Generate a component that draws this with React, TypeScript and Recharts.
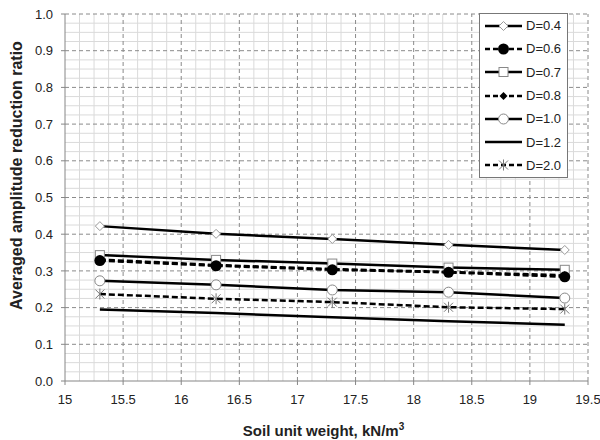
import React from "react";
import { LineChart, Line, XAxis, YAxis, ReferenceLine, Legend, Label } from "recharts";

// soil unit weight (kN/m3) at which each ratio was measured
const unitWeights = [15.3, 16.3, 17.3, 18.3, 19.3];

// averaged amplitude reduction ratio, one list per D
const d04 = [0.422, 0.401, 0.387, 0.371, 0.357];
const d06 = [0.328, 0.314, 0.303, 0.296, 0.284];
const d07 = [0.343, 0.33, 0.32, 0.309, 0.303];
const d08 = [0.331, 0.316, 0.305, 0.297, 0.288];
const d10 = [0.273, 0.262, 0.248, 0.242, 0.226];
const d12 = [0.195, 0.185, 0.174, 0.163, 0.153];
const d20 = [0.237, 0.224, 0.215, 0.201, 0.196];

const xTicks = [15, 15.5, 16, 16.5, 17, 17.5, 18, 18.5, 19, 19.5];
const yTicks = [0, 0.1, 0.2, 0.3, 0.4, 0.5, 0.6, 0.7, 0.8, 0.9, 1];
// minor grid: 4 divisions between major lines (majors skipped)
const xMinor = Array.from({ length: 36 }, (_, i) => 15 + (i + 1) * 0.125).filter((_, i) => (i + 1) % 4 !== 0);
const yMinor = Array.from({ length: 40 }, (_, i) => (i + 1) * 0.025).filter((_, i) => (i + 1) % 4 !== 0);

type MarkerKind = "diamond" | "dot" | "square" | "smallDiamond" | "circle" | "none" | "star";

const seriesList: { key: string; name: string; values: number[]; dashed: boolean; marker: MarkerKind }[] = [
  { key: "d04", name: "D=0.4", values: d04, dashed: false, marker: "diamond" },
  { key: "d07", name: "D=0.7", values: d07, dashed: false, marker: "square" },
  { key: "d06", name: "D=0.6", values: d06, dashed: true, marker: "dot" },
  { key: "d08", name: "D=0.8", values: d08, dashed: true, marker: "smallDiamond" },
  { key: "d10", name: "D=1.0", values: d10, dashed: false, marker: "circle" },
  { key: "d12", name: "D=1.2", values: d12, dashed: false, marker: "none" },
  { key: "d20", name: "D=2.0", values: d20, dashed: true, marker: "star" },
];
const legendOrder = ["d04", "d06", "d07", "d08", "d10", "d12", "d20"];

const data = unitWeights.map((x, i) => {
  const row: Record<string, number> = { x };
  seriesList.forEach((s) => (row[s.key] = s.values[i]));
  return row;
});

function Marker({ kind, cx, cy }: { kind: MarkerKind; cx: number; cy: number }) {
  switch (kind) {
    case "diamond":
      return (
        <polygon
          points={`${cx},${cy - 4.5} ${cx + 4.5},${cy} ${cx},${cy + 4.5} ${cx - 4.5},${cy}`}
          fill="#fff"
          stroke="#999"
          strokeWidth={1}
        />
      );
    case "dot":
      return <circle cx={cx} cy={cy} r={5.5} fill="#000" />;
    case "square":
      return <rect x={cx - 4.5} y={cy - 4.5} width={9} height={9} fill="#fff" stroke="#888" strokeWidth={1} />;
    case "smallDiamond":
      return <polygon points={`${cx},${cy - 4} ${cx + 4},${cy} ${cx},${cy + 4} ${cx - 4},${cy}`} fill="#000" />;
    case "circle":
      return <circle cx={cx} cy={cy} r={5} fill="#fff" stroke="#888" strokeWidth={1} />;
    case "star":
      return (
        <g stroke="#777" strokeWidth={1}>
          <line x1={cx - 4.5} y1={cy - 4.5} x2={cx + 4.5} y2={cy + 4.5} />
          <line x1={cx - 4.5} y1={cy + 4.5} x2={cx + 4.5} y2={cy - 4.5} />
          <line x1={cx} y1={cy - 5.5} x2={cx} y2={cy + 5.5} />
        </g>
      );
    default:
      return null;
  }
}

const LegendBox = () => (
  <div
    style={{
      border: "1px solid #777",
      background: "#fff",
      width: 87,
      height: 163,
      fontSize: 13,
      color: "#222",
    }}
  >
    {legendOrder.map((k) => {
      const s = seriesList.find((it) => it.key === k)!;
      return (
        <div key={k} style={{ height: 23.3, display: "flex", alignItems: "center" }}>
          <svg width={45} height={16} style={{ display: "block" }}>
            <line
              x1={5}
              x2={42}
              y1={8}
              y2={8}
              stroke="#000"
              strokeWidth={2.5}
              strokeDasharray={s.dashed ? "5 3" : undefined}
            />
            <Marker kind={s.marker} cx={23.5} cy={8} />
          </svg>
          <span style={{ marginLeft: 1 }}>{s.name}</span>
        </div>
      );
    })}
  </div>
);

export default function App() {
  return (
    <div style={{ position: "absolute", left: 0, top: 0, fontFamily: "'Liberation Sans', Arial, sans-serif" }}>
      <LineChart width={600} height={440} data={data} margin={{ top: 14, right: 12, bottom: 0, left: 0 }}>
        {xMinor.map((v) => (
          <ReferenceLine key={`xm${v}`} x={v} stroke="#dadada" strokeWidth={1} zIndex={-100} />
        ))}
        {yMinor.map((v) => (
          <ReferenceLine key={`ym${v}`} y={v} stroke="#dadada" strokeWidth={1} zIndex={-100} />
        ))}
        {xTicks.slice(1).map((v) => (
          <ReferenceLine key={`xM${v}`} x={v} stroke="#8a8a8a" strokeDasharray="4 3" zIndex={-90} />
        ))}
        {yTicks.slice(1).map((v) => (
          <ReferenceLine key={`yM${v}`} y={v} stroke="#8a8a8a" strokeDasharray="4 3" zIndex={-90} />
        ))}
        <XAxis
          dataKey="x"
          type="number"
          domain={[15, 19.5]}
          ticks={xTicks}
          tickFormatter={(v: number) => String(v)}
          height={59}
          tickSize={4}
          tickMargin={10}
          axisLine={{ stroke: "#868686" }}
          tickLine={{ stroke: "#868686" }}
          tick={{ fill: "#222", fontSize: 13 }}
          allowDataOverflow
        >
          <Label
            content={(props: any) => {
              const vb = props.viewBox;
              return (
                <text x={vb.x + vb.width / 2 - 3} y={436} textAnchor="middle" fontSize={15} fontWeight="bold" fill="#222">
                  Soil unit weight, kN/m
                  <tspan dy={-6} fontSize={10}>
                    3
                  </tspan>
                </text>
              );
            }}
          />
        </XAxis>
        <YAxis
          type="number"
          domain={[0, 1]}
          ticks={yTicks}
          tickFormatter={(v: number) => v.toFixed(1)}
          width={65}
          tickSize={4}
          tickMargin={8}
          axisLine={{ stroke: "#868686" }}
          tickLine={{ stroke: "#868686" }}
          tick={{ fill: "#222", fontSize: 13 }}
          allowDataOverflow
        >
          <Label
            content={(props: any) => {
              const vb = props.viewBox;
              const cy = vb.y + vb.height / 2 - 22;
              return (
                <text
                  x={22}
                  y={cy}
                  transform={`rotate(-90, 22, ${cy})`}
                  textAnchor="middle"
                  fontSize={16}
                  fontWeight="bold"
                  fill="#222"
                >
                  Averaged amplitude reduction ratio
                </text>
              );
            }}
          />
        </YAxis>
        {seriesList.map((s) => (
          <Line
            key={s.key}
            dataKey={s.key}
            name={s.name}
            type="linear"
            stroke="#000"
            strokeWidth={2.5}
            strokeDasharray={s.dashed ? "6 3" : undefined}
            dot={(p: any) => <Marker key={`${s.key}-${p.index}`} kind={s.marker} cx={p.cx} cy={p.cy} />}
            activeDot={false}
            isAnimationActive={false}
          />
        ))}
        <Legend
          layout="vertical"
          align="center"
          verticalAlign="middle"
          wrapperStyle={{ left: 479, top: 13, width: 89, height: 165 }}
          content={() => <LegendBox />}
        />
      </LineChart>
    </div>
  );
}
